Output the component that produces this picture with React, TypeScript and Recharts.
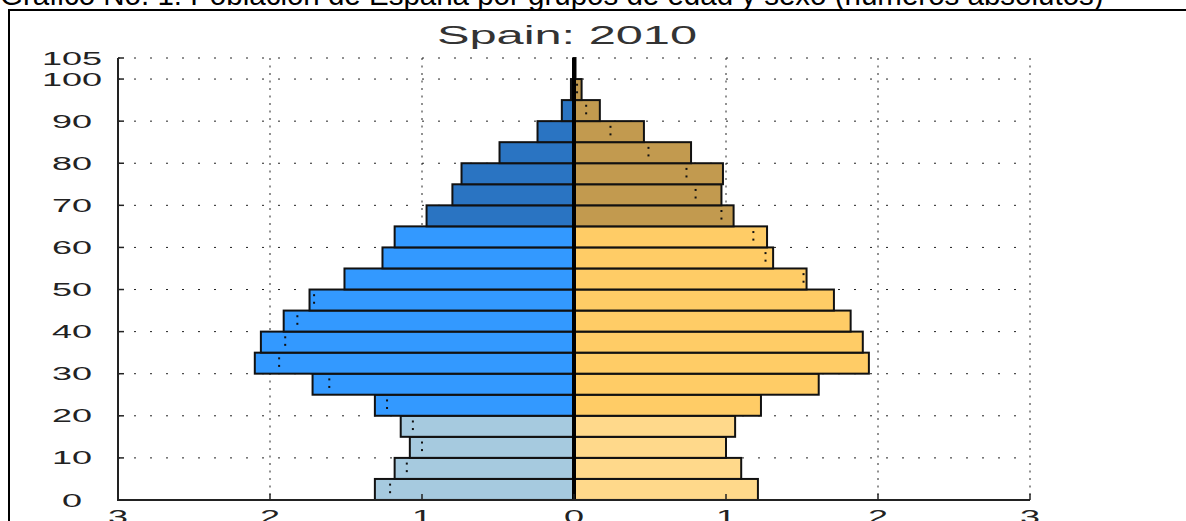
import { BarChart, Bar, XAxis, YAxis, CartesianGrid, ReferenceLine } from "recharts";

const AGE_GROUPS = [
  "0-4", "5-9", "10-14", "15-19", "20-24", "25-29", "30-34", "35-39", "40-44", "45-49",
  "50-54", "55-59", "60-64", "65-69", "70-74", "75-79", "80-84", "85-89", "90-94", "95-99", "100+",
];
const AGE_START = [0, 5, 10, 15, 20, 25, 30, 35, 40, 45, 50, 55, 60, 65, 70, 75, 80, 85, 90, 95, 100];

// millions of people
const MALE = [1.31, 1.18, 1.08, 1.14, 1.31, 1.72, 2.1, 2.06, 1.91, 1.74, 1.51, 1.26, 1.18, 0.97, 0.8, 0.74, 0.49, 0.24, 0.08, 0.02, 0.004];
const FEMALE = [1.21, 1.1, 1.0, 1.06, 1.23, 1.61, 1.94, 1.9, 1.82, 1.71, 1.53, 1.31, 1.27, 1.05, 0.97, 0.98, 0.77, 0.46, 0.17, 0.05, 0.01];

const X_TICKS = [-3, -2, -1, 0, 1, 2, 3];
const Y_TICKS = [0, 10, 20, 30, 40, 50, 60, 70, 80, 90, 100, 105];

const MALE_COLORS = { young: "#a6cadf", adult: "#3399ff", old: "#2a74c2" };
const FEMALE_COLORS = { young: "#ffd98b", adult: "#ffcc66", old: "#c29a4f" };

const FONT = "'Liberation Sans', Arial, sans-serif";

const data = AGE_GROUPS.map((age, i) => ({
  age,
  mid: AGE_START[i] + 2.5,
  male: -MALE[i],
  female: FEMALE[i],
}));

function tier(i: number) {
  if (i < 4) return "young";
  if (i < 13) return "adult";
  return "old";
}

function PyramidBar(props: any) {
  const { x, y, width, height, index, side } = props;
  const left = Math.min(x, x + width);
  const w = Math.abs(width);
  const own = side === "m" ? MALE[index] : FEMALE[index];
  const other = side === "m" ? FEMALE[index] : MALE[index];
  const fill = side === "m" ? MALE_COLORS[tier(index)] : FEMALE_COLORS[tier(index)];
  let mark = null;
  if (other < own && w > 6) {
    const mx = side === "m" ? left + w - (w * other) / own : left + (w * other) / own;
    mark = (
      <g fill="#111">
        <rect x={mx - 1} y={y + height * 0.27 - 1} width={2} height={2} />
        <rect x={mx - 1} y={y + height * 0.63 - 1} width={2} height={2} />
      </g>
    );
  }
  return (
    <g>
      <rect x={left} y={y} width={w} height={height} fill={fill} stroke="#111" strokeWidth={2} />
      {mark}
    </g>
  );
}

function YTick({ y, payload }: any) {
  const axisX = 118;
  return (
    <g>
      <line x1={axisX} x2={axisX + 6} y1={y} y2={y} stroke="#222" strokeWidth={1.5} />
      <text
        transform={`translate(72 ${y + 6.5}) scale(2 1)`}
        textAnchor="middle"
        fontSize={18}
        fontFamily={FONT}
        fill="#222"
      >
        {payload.value}
      </text>
    </g>
  );
}

function XTick({ x, y, payload }: any) {
  return (
    <g>
      <line x1={x} x2={x} y1={y} y2={y - 6} stroke="#222" strokeWidth={1.5} />
      <text
        transform={`translate(${x} ${y + 23}) scale(2 1)`}
        textAnchor="middle"
        fontSize={18}
        fontFamily={FONT}
        fill="#222"
      >
        {Math.abs(payload.value)}
      </text>
    </g>
  );
}

export default function App() {
  return (
    <div
      style={{
        position: "fixed",
        left: 0,
        top: 0,
        width: 1186,
        height: 521,
        overflow: "hidden",
        background: "#fff",
      }}
    >
      <div style={{ position: "absolute", left: 0, top: 0 }}>
        <BarChart
          width={1186}
          height={521}
          data={data}
          layout="vertical"
          stackOffset="sign"
          barCategoryGap={0}
          margin={{ top: 58, right: 156, bottom: 0, left: 0 }}
        >
          <CartesianGrid
            yAxisId="num"
            vertical={false}
            stroke="#222"
            strokeDasharray="2 14"
          />
          <CartesianGrid
            yAxisId="num"
            horizontal={false}
            stroke="#222"
            strokeDasharray="2 5.5"
          />
          <XAxis
            type="number"
            domain={[-3, 3]}
            ticks={X_TICKS}
            interval={0}
            height={21}
            tickSize={0}
            tickMargin={0}
            tickLine={false}
            axisLine={{ stroke: "#222", strokeWidth: 2 }}
            tick={<XTick />}
          />
          <YAxis
            yAxisId="num"
            orientation="left"
            type="number"
            dataKey="mid"
            domain={[0, 105]}
            allowDataOverflow
            reversed
            ticks={Y_TICKS}
            interval={0}
            width={118}
            tickSize={0}
            tickMargin={0}
            tickLine={false}
            axisLine={false}
            tick={<YTick />}
          />
          <YAxis yAxisId="cat" type="category" dataKey="age" reversed hide width={0} />
          <Bar
            yAxisId="cat"
            dataKey="male"
            stackId="pyr"
            isAnimationActive={false}
            shape={(p: any) => <PyramidBar {...p} side="m" />}
          />
          <Bar
            yAxisId="cat"
            dataKey="female"
            stackId="pyr"
            isAnimationActive={false}
            shape={(p: any) => <PyramidBar {...p} side="f" />}
          />
          <ReferenceLine yAxisId="num" x={0} stroke="#000" strokeWidth={4} />
        </BarChart>
      </div>
      <svg
        width={1186}
        height={521}
        style={{ position: "absolute", left: 0, top: 0, pointerEvents: "none" }}
      >
        <text x={0} y={5} fontSize={29.5} fontFamily={FONT} fill="#000">
          Gráfico No. 1: Población de España por grupos de edad y sexo (números absolutos)
        </text>
        <rect x={8} y={9} width={1178} height={2} fill="#000" />
        <rect x={8} y={9} width={2} height={512} fill="#000" />
        <rect x={117} y={58} width={2} height={443} fill="#222" />
        <text
          transform="translate(567 44) scale(1.95 1)"
          textAnchor="middle"
          fontSize={25}
          fontFamily={FONT}
          fill="#333"
        >
          Spain: 2010
        </text>
      </svg>
    </div>
  );
}
